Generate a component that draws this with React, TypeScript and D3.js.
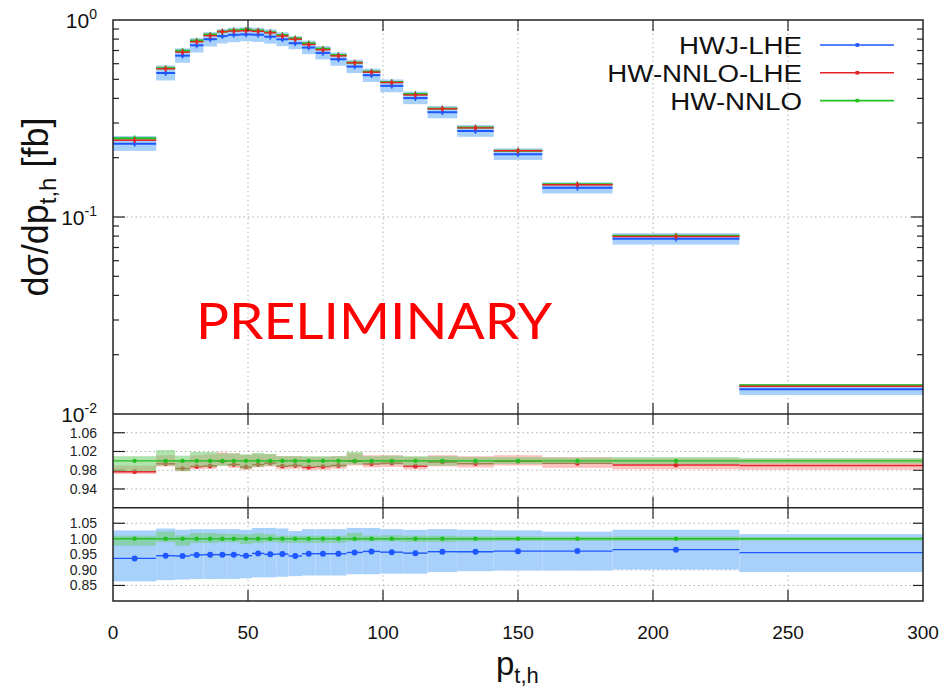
import React from "react";
import * as d3 from "d3";

// Bin edges in p_t,h [GeV]; the last bin is an overflow bin that runs past the frame.
const binEdges = [0, 16, 23, 28.5, 33.5, 38.5, 42.5, 47, 51.5, 56, 60.5, 65, 70, 75, 80.5, 86.5, 92.5, 99, 107.5, 116.5, 127.5, 141, 159, 185, 232, 400];

// Central values dσ/dp_t,h [fb]
const hwNnlo = [0.251, 0.569, 0.698, 0.785, 0.842, 0.873, 0.886, 0.893, 0.883, 0.866, 0.839, 0.807, 0.761, 0.715, 0.664, 0.607, 0.547, 0.484, 0.421, 0.355, 0.285, 0.217, 0.1466, 0.0804, 0.01398];
const hwNnloLhe = [0.2452, 0.5654, 0.6865, 0.7754, 0.8327, 0.8721, 0.8789, 0.8814, 0.8759, 0.8617, 0.8294, 0.7989, 0.7507, 0.7063, 0.6574, 0.6064, 0.5435, 0.4816, 0.4162, 0.3541, 0.2833, 0.2168, 0.1458, 0.07968, 0.01384];
const hwjLhe = [0.2352, 0.5381, 0.6593, 0.7442, 0.7991, 0.8285, 0.8408, 0.8445, 0.8415, 0.8227, 0.7979, 0.7623, 0.7245, 0.6807, 0.6321, 0.5803, 0.5248, 0.4632, 0.4016, 0.3403, 0.2732, 0.2084, 0.1408, 0.07759, 0.01336];

// Scale-variation envelopes, relative to the HW-NNLO central value
const hwNnloBandHi = [1.010, 1.023, 1.011, 1.019, 1.019, 1.016, 1.016, 1.014, 1.017, 1.015, 1.010, 1.010, 1.010, 1.010, 1.010, 1.019, 1.010, 1.011, 1.010, 1.010, 1.008, 1.008, 1.007, 1.008, 1.006];
const hwNnloBandLo = [0.978, 0.990, 0.978, 0.987, 0.987, 0.989, 0.989, 0.983, 0.987, 0.990, 0.987, 0.987, 0.987, 0.987, 0.987, 0.992, 0.992, 0.992, 0.990, 0.990, 0.992, 0.993, 0.993, 0.993, 0.994];
const hwNnloLheBandHi = [0.990, 1.012, 1.000, 1.012, 1.014, 1.018, 1.016, 1.012, 1.014, 1.014, 1.010, 1.010, 1.008, 1.008, 1.010, 1.016, 1.012, 1.012, 1.008, 1.012, 1.010, 1.012, 1.008, 1.005, 1.004];
const hwNnloLheBandLo = [0.972, 0.988, 0.978, 0.982, 0.983, 0.990, 0.985, 0.981, 0.986, 0.988, 0.982, 0.983, 0.980, 0.981, 0.983, 0.990, 0.986, 0.987, 0.982, 0.988, 0.986, 0.990, 0.985, 0.982, 0.981];
const hwjLheBandHi = [1.027, 1.033, 1.029, 1.031, 1.031, 1.031, 1.031, 1.029, 1.035, 1.035, 1.033, 1.025, 1.031, 1.031, 1.031, 1.035, 1.035, 1.031, 1.029, 1.031, 1.029, 1.027, 1.023, 1.029, 1.015];
const hwjLheBandLo = [0.863, 0.867, 0.869, 0.871, 0.871, 0.871, 0.871, 0.873, 0.876, 0.876, 0.878, 0.880, 0.882, 0.882, 0.882, 0.886, 0.886, 0.888, 0.888, 0.893, 0.896, 0.898, 0.898, 0.901, 0.893];

const xTicks = [0, 50, 100, 150, 200, 250, 300];
const ratio1Ticks = [0.94, 0.98, 1.02, 1.06];
const ratio2Ticks = [0.85, 0.90, 0.95, 1.00, 1.05];
const legendItems = ["HWJ-LHE", "HW-NNLO-LHE", "HW-NNLO"];

const FONT = "'Liberation Sans', Arial, Helvetica, sans-serif";
const BLUE = "#1f57ff";
const RED = "#e4232b";
const GREEN = "#22c022";
const BAND_BLUE = "#a7d0fb";
const BAND_GREEN = "rgba(110, 205, 110, 0.55)";
const BAND_RED = "rgba(255, 140, 140, 0.55)";
const GRID = "#b0b0b0";
const FRAME = "#222";

const L = 113, R = 923;
const TOP = 20, MAIN_B = 414, R1_B = 507.7, R2_B = 601;

type Bin = {
  x0: number; x1: number; xc: number;
  nnlo: number; nnloLhe: number; hwj: number;
  gHi: number; gLo: number; rHi: number; rLo: number; bHi: number; bLo: number;
};

const bins: Bin[] = hwNnlo.map((v, i) => ({
  x0: binEdges[i], x1: binEdges[i + 1], xc: (binEdges[i] + binEdges[i + 1]) / 2,
  nnlo: v, nnloLhe: hwNnloLhe[i], hwj: hwjLhe[i],
  gHi: hwNnloBandHi[i], gLo: hwNnloBandLo[i],
  rHi: hwNnloLheBandHi[i], rLo: hwNnloLheBandLo[i],
  bHi: hwjLheBandHi[i], bLo: hwjLheBandLo[i],
}));

const x = d3.scaleLinear().domain([0, 300]).range([L, R]);
const yMain = d3.scaleLog().domain([0.01, 1]).range([MAIN_B, TOP]);
const yR1 = d3.scaleLinear().domain([0.9, 1.1]).range([R1_B, MAIN_B]);
const yR2 = d3.scaleLinear().domain([0.8, 1.1]).range([R2_B, R1_B]);

const inFrame = (b: Bin) => b.xc <= 300;
const cx = (b: Bin) => x(Math.min(b.x1, 300));

function Segments({ y, get, color, w = 1.6 }: { y: (v: number) => number; get: (b: Bin) => number; color: string; w?: number }) {
  return (
    <g>
      {bins.map((b, i) => (
        <line key={i} x1={x(b.x0)} x2={cx(b)} y1={y(get(b))} y2={y(get(b))} stroke={color} strokeWidth={w} />
      ))}
    </g>
  );
}

function Bands({ y, hi, lo, fill }: { y: (v: number) => number; hi: (b: Bin) => number; lo: (b: Bin) => number; fill: string }) {
  return (
    <g>
      {bins.map((b, i) => (
        <rect key={i} x={x(b.x0)} width={cx(b) - x(b.x0)} y={y(hi(b))} height={Math.max(0.8, y(lo(b)) - y(hi(b)))} fill={fill} />
      ))}
    </g>
  );
}

function Dots({ y, get, color, r }: { y: (v: number) => number; get: (b: Bin) => number; color: string; r: number }) {
  return (
    <g>
      {bins.filter(inFrame).map((b, i) => (
        <circle key={i} cx={x(b.xc)} cy={y(get(b))} r={r} fill={color} />
      ))}
    </g>
  );
}

function MainMarkers({ get, color }: { get: (b: Bin) => number; color: string }) {
  return (
    <g>
      {bins.filter(inFrame).map((b, i) => {
        const py = yMain(get(b));
        return (
          <g key={i}>
            <line x1={x(b.xc)} x2={x(b.xc)} y1={py - 3} y2={py + 3} stroke={color} strokeWidth={1.2} />
            <rect x={x(b.xc) - 1.5} y={py - 1.5} width={3} height={3} fill={color} />
          </g>
        );
      })}
    </g>
  );
}

function XGrid({ y0, y1 }: { y0: number; y1: number }) {
  return (
    <g>
      {xTicks.slice(1, -1).map((t) => (
        <line key={t} x1={x(t)} x2={x(t)} y1={y0} y2={y1} stroke={GRID} strokeWidth={1} strokeDasharray="1.5,3" />
      ))}
    </g>
  );
}

function XTicks({ y0, y1 }: { y0: number; y1: number }) {
  return (
    <g stroke={FRAME} strokeWidth={1.2}>
      {xTicks.slice(1, -1).map((t) => (
        <g key={t}>
          <line x1={x(t)} x2={x(t)} y1={y0} y2={y0 + 11} />
          <line x1={x(t)} x2={x(t)} y1={y1} y2={y1 - 11} />
        </g>
      ))}
    </g>
  );
}

function RatioAxis({ y, ticks, fmt }: { y: (v: number) => number; ticks: number[]; fmt: (v: number) => string }) {
  return (
    <g>
      {ticks.map((t) => (
        <g key={t}>
          <line x1={L} x2={R} y1={y(t)} y2={y(t)} stroke={GRID} strokeWidth={1} strokeDasharray="1.5,3" />
          <line x1={L} x2={L + 12} y1={y(t)} y2={y(t)} stroke={FRAME} strokeWidth={1.2} />
          <line x1={R - 10} x2={R} y1={y(t)} y2={y(t)} stroke={FRAME} strokeWidth={1.2} />
          <text x={97} y={y(t) + 5} textAnchor="end" fontSize={14} fontFamily={FONT} fill="#222">{fmt(t)}</text>
        </g>
      ))}
    </g>
  );
}

export default function App() {
  const f2 = d3.format(".2f");
  const decades = [1, 0.1, 0.01];
  const minors: number[] = [];
  [0.01, 0.1].forEach((d) => { for (let k = 2; k <= 9; k++) minors.push(d * k); });

  return (
    <svg width={947} height={687} style={{ position: "absolute", left: 0, top: 0, background: "#fff" }} fontFamily={FONT}>
      <defs>
        <clipPath id="plot"><rect x={L} y={TOP} width={R - L} height={R2_B - TOP} /></clipPath>
      </defs>

      {/* ---------- main panel ---------- */}
      <XGrid y0={TOP} y1={MAIN_B} />
      <line x1={L} x2={R} y1={yMain(0.1)} y2={yMain(0.1)} stroke={GRID} strokeWidth={1} strokeDasharray="1.5,3" />
      <g clipPath="url(#plot)">
        <Bands y={yMain} hi={(b) => b.nnlo * b.bHi} lo={(b) => b.nnlo * b.bLo} fill={BAND_BLUE} />
        <Bands y={yMain} hi={(b) => b.nnlo * b.rHi} lo={(b) => b.nnlo * b.rLo} fill={BAND_RED} />
        <Bands y={yMain} hi={(b) => b.nnlo * b.gHi} lo={(b) => b.nnlo * b.gLo} fill={BAND_GREEN} />
        <Segments y={yMain} get={(b) => b.hwj} color={BLUE} w={2} />
        <Segments y={yMain} get={(b) => b.nnlo} color={GREEN} w={2} />
        <Segments y={yMain} get={(b) => b.nnloLhe} color={RED} w={1.4} />
        <MainMarkers get={(b) => b.hwj} color={BLUE} />
        <MainMarkers get={(b) => b.nnlo} color={GREEN} />
        <MainMarkers get={(b) => b.nnloLhe} color={RED} />
      </g>

      {/* log-axis ticks */}
      <g stroke={FRAME} strokeWidth={1.2}>
        {decades.slice(1, 2).map((d) => (
          <g key={d}>
            <line x1={L} x2={L + 12} y1={yMain(d)} y2={yMain(d)} />
            <line x1={R - 12} x2={R} y1={yMain(d)} y2={yMain(d)} />
          </g>
        ))}
        {minors.map((m) => (
          <g key={m}>
            <line x1={L} x2={L + 6} y1={yMain(m)} y2={yMain(m)} />
            <line x1={R - 6} x2={R} y1={yMain(m)} y2={yMain(m)} />
          </g>
        ))}
      </g>
      {decades.map((d) => {
        const e = Math.round(Math.log10(d));
        return (
          <text key={d} x={97} y={yMain(d) + 8} textAnchor="end" fontSize={21} fill="#111">
            10<tspan dy={-9} fontSize={14}>{String(e)}</tspan>
          </text>
        );
      })}

      {/* legend */}
      {legendItems.map((name, i) => {
        const ly = 45 + i * 27.8;
        const col = [BLUE, RED, GREEN][i];
        return (
          <g key={name}>
            <g transform={`translate(802,${ly + 9}) scale(1.13,1)`}>
              <text x={0} y={0} textAnchor="end" fontSize={24.5} fill="#111">{name}</text>
            </g>
            <line x1={820} x2={894} y1={ly} y2={ly} stroke={col} strokeWidth={1.6} />
            <rect x={855.5} y={ly - 1.8} width={3.6} height={3.6} fill={col} />
          </g>
        );
      })}

      <text x={196} y={339} fontSize={50} fill="#ff0000" fontFamily="Lato, 'Open Sans', sans-serif" textLength={356} lengthAdjust="spacingAndGlyphs">PRELIMINARY</text>

      {/* ---------- ratio panel 1: HW-NNLO-LHE / HW-NNLO ---------- */}
      <XGrid y0={MAIN_B} y1={R1_B} />
      <RatioAxis y={yR1} ticks={ratio1Ticks} fmt={f2} />
      <g clipPath="url(#plot)">
        <Bands y={yR1} hi={(b) => b.rHi} lo={(b) => b.rLo} fill={BAND_RED} />
        <Segments y={yR1} get={(b) => b.nnloLhe / b.nnlo} color={RED} w={1.4} />
        <Dots y={yR1} get={(b) => b.nnloLhe / b.nnlo} color={RED} r={2.4} />
        <Bands y={yR1} hi={(b) => b.gHi} lo={(b) => b.gLo} fill={BAND_GREEN} />
        <Segments y={yR1} get={() => 1} color={GREEN} w={1.4} />
        <Dots y={yR1} get={() => 1} color={GREEN} r={2.2} />
      </g>

      {/* ---------- ratio panel 2: HWJ-LHE / HW-NNLO ---------- */}
      <XGrid y0={R1_B} y1={R2_B} />
      <RatioAxis y={yR2} ticks={ratio2Ticks} fmt={f2} />
      <g clipPath="url(#plot)">
        <Bands y={yR2} hi={(b) => b.bHi} lo={(b) => b.bLo} fill={BAND_BLUE} />
        <Bands y={yR2} hi={(b) => b.gHi} lo={(b) => b.gLo} fill={BAND_GREEN} />
        <Segments y={yR2} get={(b) => b.hwj / b.nnlo} color={BLUE} w={1.4} />
        <Dots y={yR2} get={(b) => b.hwj / b.nnlo} color={BLUE} r={3} />
        <Segments y={yR2} get={() => 1} color={GREEN} w={1.4} />
        <Dots y={yR2} get={() => 1} color={GREEN} r={2.2} />
      </g>

      {/* frames and x ticks */}
      <XTicks y0={TOP} y1={MAIN_B} />
      <XTicks y0={MAIN_B} y1={R1_B} />
      <XTicks y0={R1_B} y1={R2_B} />
      <g fill="none" stroke={FRAME} strokeWidth={1.5}>
        <rect x={L} y={TOP} width={R - L} height={R2_B - TOP} />
        <line x1={L} x2={R} y1={MAIN_B} y2={MAIN_B} />
        <line x1={L} x2={R} y1={R1_B} y2={R1_B} />
      </g>

      {xTicks.map((t) => (
        <text key={t} x={x(t)} y={639} textAnchor="middle" fontSize={19} fill="#111">{t}</text>
      ))}

      {/* axis titles */}
      <text x={496} y={675} fontSize={33} fill="#111">
        p<tspan dy={8} fontSize={22}>t,h</tspan>
      </text>
      <text transform="translate(48,207) rotate(-90)" textAnchor="middle" fontSize={36} fill="#111">
        dσ/dp<tspan dy={8} fontSize={24}>t,h</tspan><tspan dy={-8}> [fb]</tspan>
      </text>
    </svg>
  );
}
